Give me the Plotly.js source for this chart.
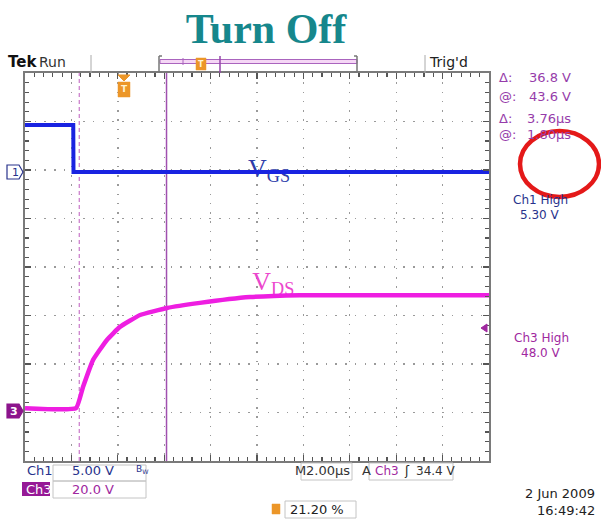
<!DOCTYPE html>
<html><head><meta charset="utf-8">
<script src="https://cdn.plot.ly/plotly-3.0.1.min.js"></script>
<style>html,body{margin:0;padding:0;background:#fff}#chart{width:601px;height:522px}</style>
</head><body><div id="chart"></div>
<script>
// ---- data (time in µs relative to trigger, values in volts) ----
const ch1Time  = [-4.30, -2.22, -2.21, 15.70];
const ch1Volts = [4.65, 4.65, -0.2, -0.2];
const ch3Time  = [-4.30, -2.10, -1.80, -1.37, -0.77, -0.21, 0.66, 1.82, 3.24, 5.40, 7.55, 15.70];
const ch3Volts = [1.8, 1.8, 10.5, 21.6, 29.9, 35.3, 40.2, 43.1, 45.2, 47.6, 48.4, 48.4];
const cursorTimes = [-1.96, 1.80];
const ch1Scale = 5.0, ch3Scale = 20.0;      // V/div
const ch1Ground = 2, ch3Ground = -3;        // divisions
const readouts = [["Δ:", "36.8 V"], ["@:", "43.6 V"], ["Δ:", "3.76µs"], ["@:", "1.80µs"]];
const ch1High = "5.30 V", ch3High = "48.0 V";
const trigLevel = "34.4 V", timeDiv = "2.00µs", trigPos = "21.20 %";
const dateText = "2 Jun 2009", timeText = "16:49:42";

// ---- layout helpers (pixel -> paper) ----
const L = 25, R = 489, T = 73, B = 461, W = R - L, H = B - T;
const px = x => (x - L) / W;
const py = y => (B - y) / H;

const navy = 'rgb(40,50,140)', purple = 'rgb(160,40,160)', rdPurple = 'rgb(150,60,170)';
const orange = 'rgb(236,150,40)';
const sans = 'DejaVu Sans';

const traces = [
  {x: [6.22], y: [2.0], mode: 'text', text: ['V<sub>GS</sub>'], textposition: 'middle center',
   textfont: {family: 'Liberation Serif', size: 26, color: 'rgb(45,60,170)'}, hoverinfo: 'skip'},
  {x: [6.40], y: [-0.33], mode: 'text', text: ['V<sub>DS</sub>'], textposition: 'middle center',
   textfont: {family: 'Liberation Serif', size: 26, color: 'rgb(236,70,205)'}, hoverinfo: 'skip'},
  {x: ch1Time, y: ch1Volts.map(v => v / ch1Scale + ch1Ground), mode: 'lines',
   line: {color: 'rgb(25,35,225)', width: 4}, hoverinfo: 'skip'},
  {x: ch3Time, y: ch3Volts.map(v => v / ch3Scale + ch3Ground), mode: 'lines',
   line: {color: 'rgb(238,30,225)', width: 4.5, shape: 'spline', smoothing: 0.35}, hoverinfo: 'skip'}
];

const ann = [];
function txt(x, y, text, size, color, opts) {
  ann.push(Object.assign({xref: 'paper', yref: 'paper', x: px(x), y: py(y), text: text, showarrow: false,
    xanchor: 'left', yanchor: 'middle', font: {family: sans, size: size, color: color}}, opts || {}));
}
txt(6, 62, '<b>Tek</b>', 15, '#111');
txt(37, 62, 'Run', 14, '#333');
txt(427, 62, "Trig'd", 14, '#222');
const rY = [78, 96, 118, 134];
readouts.forEach((r, i) => {
  txt(497, rY[i], r[0], 13, rdPurple);
  txt(573, rY[i], r[1], 13, rdPurple, {xanchor: 'right'});
});
txt(540, 200, 'Ch1 High', 12, navy, {xanchor: 'center'});
txt(540, 215, ch1High, 12, navy, {xanchor: 'center'});
txt(541, 338, 'Ch3 High', 12, purple, {xanchor: 'center'});
txt(541, 353, ch3High, 12, purple, {xanchor: 'center'});
txt(25, 471, 'Ch1', 13, navy);
txt(70, 471, '5.00 V', 13, navy);
txt(134, 470, 'B<sub>W</sub>', 9, navy);
txt(24, 489, 'Ch3', 13, '#fff');
txt(70, 489, '20.0 V', 13, purple);
txt(293, 471, 'M', 13, '#333');
txt(304, 471, timeDiv, 13, '#333');
txt(360, 471, 'A', 13, '#333');
txt(373, 471, 'Ch3', 12, purple);
txt(402, 471, 'ʃ', 12, '#222');
txt(414, 471, trigLevel, 12, '#333');
txt(288, 509, trigPos, 13, '#222');
txt(597, 494, dateText, 13, '#222', {xanchor: 'right'});
txt(597, 510, timeText, 13, '#222', {xanchor: 'right'});
txt(15, 172, '1', 11, navy, {xanchor: 'center'});
txt(14, 411, '<b>3</b>', 11, '#fff', {xanchor: 'center'});
txt(124, 89, '<b>T</b>', 9, '#fff3d0', {xanchor: 'center'});
txt(201, 64, '<b>T</b>', 8, '#fff3d0', {xanchor: 'center'});

const shapes = [];
function line(x0, y0, x1, y1, color, width, dash) {
  shapes.push({type: 'line', xref: 'paper', yref: 'paper', x0: px(x0), y0: py(y0), x1: px(x1), y1: py(y1),
    line: {color: color, width: width, dash: dash || 'solid'}});
}
function rect(x0, y0, x1, y1, lc, lw, fill) {
  shapes.push({type: 'rect', xref: 'paper', yref: 'paper', x0: px(x0), y0: py(y0), x1: px(x1), y1: py(y1),
    line: {color: lc, width: lw}, fillcolor: fill || 'rgba(0,0,0,0)'});
}
function poly(pts, lc, fill, lw) {
  const d = pts.map((p, i) => (i ? 'L' : 'M') + px(p[0]).toFixed(5) + ',' + py(p[1]).toFixed(5)).join(' ') + ' Z';
  shapes.push({type: 'path', xref: 'paper', yref: 'paper', path: d, line: {color: lc, width: lw || 1}, fillcolor: fill});
}
// cursors
shapes.push({type: 'line', xref: 'x', yref: 'paper', x0: cursorTimes[0], x1: cursorTimes[0], y0: 0, y1: 1,
  line: {color: 'rgb(205,130,205)', width: 1.3, dash: '4px,3px'}, layer: 'below'});
shapes.push({type: 'line', xref: 'x', yref: 'paper', x0: cursorTimes[1], x1: cursorTimes[1], y0: 0, y1: 1,
  line: {color: 'rgb(160,80,175)', width: 1.5}, layer: 'below'});
// top bar
line(91, 55, 91, 73, '#aaa', 1);
line(425, 55, 425, 73, '#aaa', 1);
rect(160, 59.5, 357, 63.5, 'rgb(170,100,190)', 1, 'rgb(245,215,245)');
line(159, 56, 159, 72, '#777', 1.5); line(159, 56, 162, 56, '#777', 1.5); line(159, 72, 162, 72, '#777', 1.5);
line(357, 56, 357, 72, '#777', 1.5); line(357, 56, 354, 56, '#777', 1.5); line(357, 72, 354, 72, '#777', 1.5);
line(183, 58, 183, 65, 'rgb(170,100,190)', 1);
line(220, 56, 220, 73, 'rgb(150,70,170)', 1.5);
rect(196, 58, 206, 70, orange, 0.5, orange);
// trigger marker in graticule
poly([[118, 75], [130, 75], [124, 81]], orange, orange);
shapes.push({type: 'rect', xref: 'paper', yref: 'paper', x0: px(118), x1: px(130), y0: py(82), y1: py(97),
  line: {color: orange, width: 0.5}, fillcolor: orange});
// channel markers
poly([[7, 165], [19, 165], [23, 172], [19, 179], [7, 179]], navy, '#fff', 1.2);
poly([[7, 404], [19, 404], [23, 411], [19, 418], [7, 418]], 'rgb(140,20,140)', 'rgb(140,20,140)', 1.2);
poly([[481, 328], [487, 324], [487, 332]], purple, purple);
// red circle
shapes.push({type: 'circle', xref: 'paper', yref: 'paper', x0: px(520), x1: px(599), y0: py(131), y1: py(197),
  line: {color: 'rgb(228,25,25)', width: 4.5}});
// bottom boxes
rect(53, 465, 146, 481, '#c4c4c4', 1);
rect(53, 481, 146, 498, '#c4c4c4', 1);
shapes.push({type: 'rect', xref: 'paper', yref: 'paper', x0: px(22), x1: px(50), y0: py(482), y1: py(496),
  line: {width: 0}, fillcolor: 'rgb(150,25,150)', layer: 'below'});
rect(301, 463, 352, 480, '#c4c4c4', 1);
rect(369, 463, 453, 480, '#c4c4c4', 1);
rect(285, 501, 356, 518, '#c4c4c4', 1);
rect(272, 504, 280, 514, orange, 0.5, orange);

const axCommon = {showticklabels: false, zeroline: false, showline: true, linecolor: '#7a7a7a', linewidth: 2,
  mirror: 'allticks', ticks: 'inside', ticklen: 6, tickcolor: '#555', tickwidth: 1.2,
  gridcolor: '#9a9a9a', gridwidth: 1.4, fixedrange: true};
const layout = {
  width: 601, height: 522, paper_bgcolor: '#fff', plot_bgcolor: '#fff', showlegend: false,
  margin: {l: L, r: 601 - R, t: T, b: 522 - B, pad: 0},
  title: {text: '<b>Turn Off</b>', x: 266 / 601, xanchor: 'center', y: 1 - 28 / 522, yanchor: 'middle',
    font: {family: 'Liberation Serif', size: 42, color: 'rgb(22,135,140)'}},
  xaxis: Object.assign({}, axCommon, {range: [-4.30, 15.70], tick0: -4.30, dtick: 2, griddash: '1.5px,7.78px',
    minor: {tickmode: 'linear', dtick: 0.4, tick0: -4.30, ticks: 'inside', ticklen: 4, tickwidth: 1.2, tickcolor: '#555', showgrid: false}}),
  yaxis: Object.assign({}, axCommon, {range: [-4, 4], tick0: -4, dtick: 1, griddash: '1.5px,8.2px',
    minor: {tickmode: 'linear', dtick: 0.2, tick0: -4, ticks: 'inside', ticklen: 4, tickwidth: 1.2, tickcolor: '#555', showgrid: false}}),
  annotations: ann, shapes: shapes
};
Plotly.newPlot('chart', traces, layout, {staticPlot: true, displayModeBar: false});
</script></body></html>
